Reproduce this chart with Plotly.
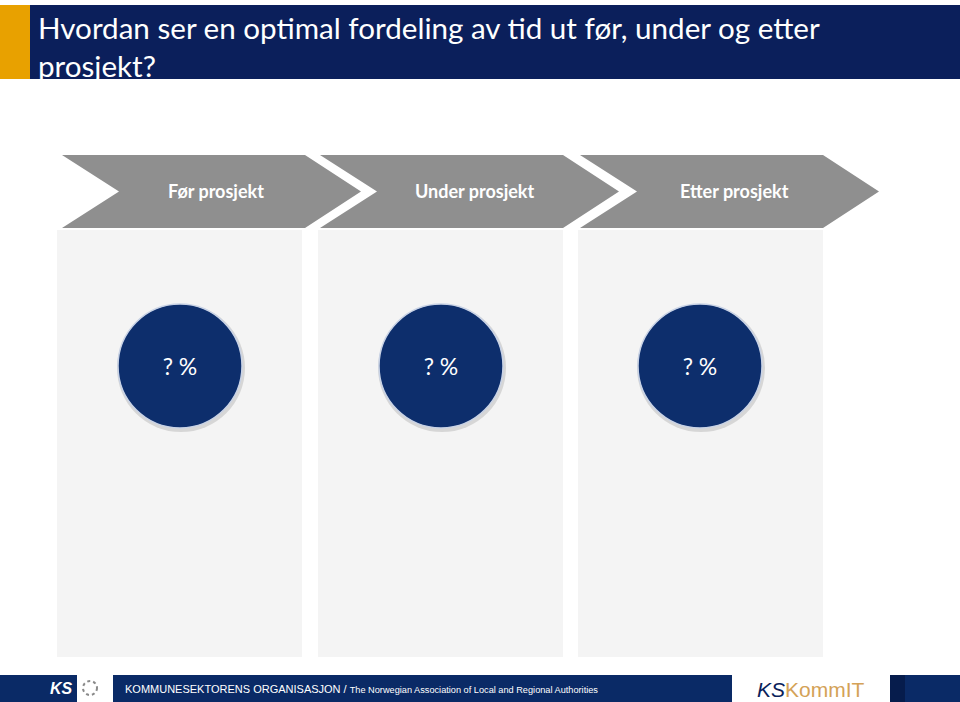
import plotly.graph_objects as go

# ---- data ----
title_lines = ["Hvordan ser en optimal fordeling av tid ut før, under og etter", "prosjekt?"]
stages = ["Før prosjekt", "Under prosjekt", "Etter prosjekt"]
shares = ["? %", "? %", "? %"]
footer_main = "KOMMUNESEKTORENS ORGANISASJON / "
footer_sub = "The Norwegian Association of Local and Regional Authorities"

# ---- style constants ----
W, H = 960, 702
NAVY = "#0b1f5b"
CIRCLE = "#0d2e6c"
ORANGE = "#e8a100"
GREY = "#8f8f8f"
PANEL = "#f4f4f4"
FOOT = "#0a2a66"

chev_left = [62, 320, 580]
chev_w = 243
notch = 57
tip = 56
chev_top, chev_bot = 155, 228
panel_left = [57, 318, 578]
panel_w = 245
panel_top, panel_bot = 230, 657
circle_cx = [180, 441, 700]
circle_cy = 366

shapes = []
# header
shapes.append(dict(type="rect", x0=0, x1=30, y0=5, y1=79, fillcolor=ORANGE, line_width=0, layer="below"))
shapes.append(dict(type="rect", x0=30, x1=960, y0=5, y1=79, fillcolor=NAVY, line_width=0, layer="below"))
# panels
for pl in panel_left:
    shapes.append(dict(type="rect", x0=pl, x1=pl + panel_w, y0=panel_top, y1=panel_bot,
                       fillcolor=PANEL, line_width=0, layer="below"))
# chevrons
ym = (chev_top + chev_bot) / 2
for cl in chev_left:
    cr = cl + chev_w
    path = (f"M {cl},{chev_top} L {cr},{chev_top} L {cr + tip},{ym} L {cr},{chev_bot} "
            f"L {cl},{chev_bot} L {cl + notch},{ym} Z")
    shapes.append(dict(type="path", path=path, fillcolor=GREY, line=dict(color="white", width=0), layer="below"))
# footer
shapes.append(dict(type="rect", x0=0, x1=77, y0=675, y1=702, fillcolor=FOOT, line_width=0, layer="below"))
shapes.append(dict(type="circle", x0=83, x1=97, y0=681, y1=695, fillcolor="white",
                   line=dict(color="#8a8a8a", width=2, dash="dot"), layer="below"))
shapes.append(dict(type="rect", x0=113, x1=732, y0=675, y1=702, fillcolor=FOOT, line_width=0, layer="below"))
shapes.append(dict(type="rect", x0=890, x1=960, y0=675, y1=702, fillcolor=FOOT, line_width=0, layer="below"))
shapes.append(dict(type="rect", x0=890, x1=905, y0=675, y1=702, fillcolor="#061c4c", line_width=0, layer="below"))

fig = go.Figure()
# circle shadows
fig.add_trace(go.Scatter(
    x=[c + 1 for c in circle_cx], y=[circle_cy + 2] * len(circle_cx), mode="markers",
    marker=dict(size=128, color="rgba(0,0,0,0.12)", line=dict(width=0)),
    hoverinfo="skip", showlegend=False))
fig.add_trace(go.Scatter(
    x=circle_cx, y=[circle_cy] * len(circle_cx), mode="markers",
    marker=dict(size=124, color=CIRCLE, line=dict(color="#c9d3e6", width=1.5)),
    hoverinfo="skip", showlegend=False))
fig.add_trace(go.Scatter(
    x=circle_cx, y=[circle_cy + 3] * len(circle_cx), mode="text",
    text=shares, textposition="middle center",
    textfont=dict(color="white", size=23, family="Lato"),
    hoverinfo="skip", showlegend=False))

annotations = []
annotations.append(dict(x=36, y=8, xref="x", yref="y", xanchor="left", yanchor="top",
                        text="<br>".join(title_lines), showarrow=False, align="left",
                        font=dict(color="white", size=29.6, family="Lato")))
for cl, s in zip(chev_left, stages):
    annotations.append(dict(x=cl + (chev_w + notch) / 2 + 4, y=ym - 1, xref="x", yref="y",
                            text=f"<b>{s}</b>", showarrow=False,
                            font=dict(color="white", size=18, family="Lato")))
annotations.append(dict(x=61, y=688, xref="x", yref="y", text="<i><b>KS</b></i>", showarrow=False,
                        font=dict(color="white", size=16, family="Liberation Sans")))
annotations.append(dict(x=123, y=689, xref="x", yref="y", xanchor="left",
                        text=f"{footer_main}<span style='font-size:9.2px'>{footer_sub}</span>",
                        showarrow=False, font=dict(color="white", size=11, family="Liberation Sans")))
annotations.append(dict(x=755, y=689, xref="x", yref="y", xanchor="left",
                        text=f"<i><span style='color:{NAVY}'>KS</span></i><span style='color:#d4a257'>KommIT</span>",
                        showarrow=False, font=dict(size=21, family="Liberation Sans")))

fig.update_layout(
    width=W, height=H, margin=dict(l=0, r=0, t=0, b=0),
    paper_bgcolor="white", plot_bgcolor="white",
    xaxis=dict(range=[0, W], visible=False, fixedrange=True),
    yaxis=dict(range=[H, 0], visible=False, fixedrange=True),
    shapes=shapes, annotations=annotations, showlegend=False,
)
fig.write_html("out.html", config={"displayModeBar": False},
               post_script="document.body.style.margin='0';document.body.style.overflow='hidden';")
